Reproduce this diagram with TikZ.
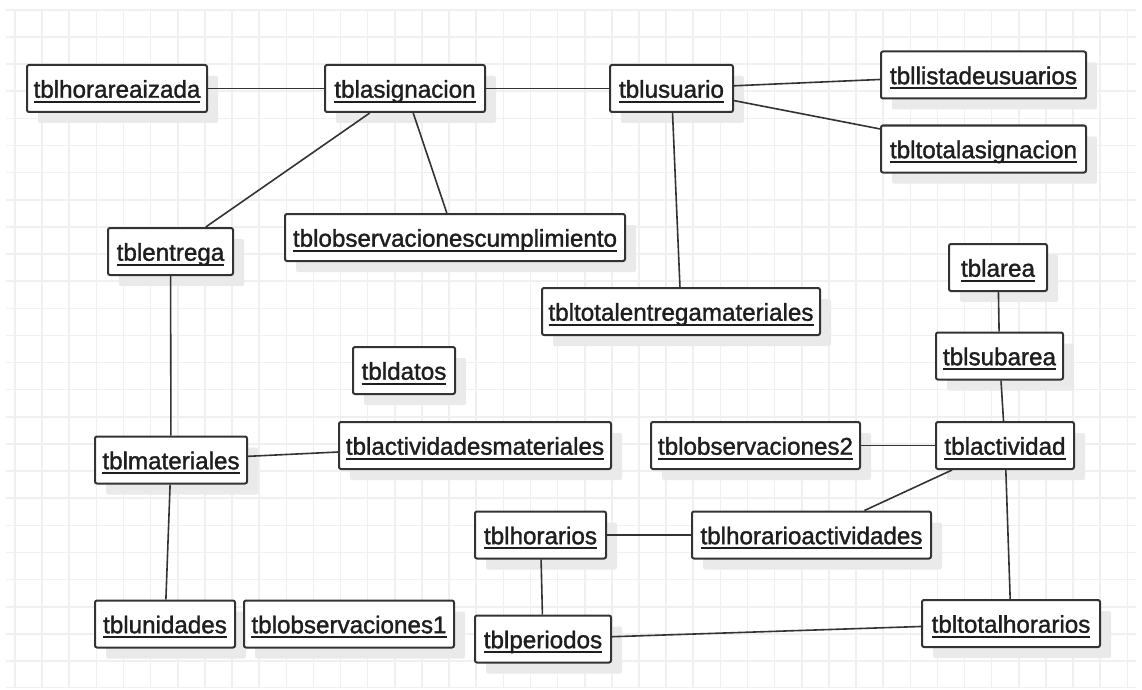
\documentclass[tikz,border=0pt]{standalone}
\usepackage{fontspec}
\newfontfamily\tblfont[FakeBold=1.4]{Liberation Sans}
\usetikzlibrary{shadows}
\definecolor{gridline}{HTML}{F0F0F0}
\definecolor{shade}{HTML}{EAEAEA}
\definecolor{ink}{HTML}{333333}
\definecolor{txt}{HTML}{1E1E1E}
% table name with a thick rule a little under the baseline
\newcommand\tblname[1]{\setbox0\hbox{#1}\rlap{\rule[-5pt]{\wd0}{2pt}}\box0}
\begin{document}
\begin{tikzpicture}[x=1pt,y=-1pt,
  tbl/.style={draw=ink, line width=2pt, rounded corners=2pt, fill=white,
    minimum height=47pt, inner sep=0pt, text height=24pt, text depth=5.6pt,
    font=\tblfont\fontsize{24.2}{29}\selectfont, text=txt,
    general shadow={fill=shade, shadow xshift=11pt, shadow yshift=-11pt}},
  link/.style={draw=ink, line width=1.6pt},
  gridrule/.style={draw=gridline, line width=1.6pt}]
\useasboundingbox (0,0) rectangle (1142,690);
\fill[white] (0,0) rectangle (1142,690);
% background grid
\begin{scope}
  \clip (6,10) rectangle (1136,687);
  \foreach \i in {0,...,41} \draw[gridrule] ({15+27.13*\i},0) -- ({15+27.13*\i},690);
  \foreach \j in {-1,...,24} \draw[gridrule] (0,{37+27.13*\j}) -- (1142,{37+27.13*\j});
\end{scope}

% tables
\node[tbl, minimum width=180pt] (horareaizada) at (117,88.5) {\tblname{tblhorareaizada}};
\node[tbl, minimum width=160pt] (asignacion) at (405,88.5) {\tblname{tblasignacion}};
\node[tbl, minimum width=123pt] (usuario) at (671.5,88.5) {\tblname{tblusuario}};
\node[tbl, minimum width=205pt] (listadeusuarios) at (983.5,75) {\tblname{tbllistadeusuarios}};
\node[tbl, minimum width=205pt] (totalasignacion) at (983.5,149) {\tblname{tbltotalasignacion}};
\node[tbl, minimum width=125pt] (entrega) at (170.5,251.5) {\tblname{tblentrega}};
\node[tbl, minimum width=340pt] (obscumplimiento) at (455,237.5) {\tblname{tblobservacionescumplimiento}};
\node[tbl, minimum width=278pt] (totalentregamateriales) at (681,311.5) {\tblname{tbltotalentregamateriales}};
\node[tbl, minimum width=98pt] (area) at (998,267.5) {\tblname{tblarea}};
\node[tbl, minimum width=127pt] (subarea) at (999.5,356) {\tblname{tblsubarea}};
\node[tbl, minimum width=102pt] (datos) at (404,370.5) {\tblname{tbldatos}};
\node[tbl, minimum width=152pt] (materiales) at (171,460) {\tblname{tblmateriales}};
\node[tbl, minimum width=272pt] (actividadesmateriales) at (475,445.5) {\tblname{tblactividadesmateriales}};
\node[tbl, minimum width=209pt] (observaciones2) at (755.5,445.5) {\tblname{tblobservaciones2}};
\node[tbl, minimum width=138pt] (actividad) at (1005,445.5) {\tblname{tblactividad}};
\node[tbl, minimum width=131pt] (horarios) at (540.5,535) {\tblname{tblhorarios}};
\node[tbl, minimum width=239pt] (horarioactividades) at (811.5,535) {\tblname{tblhorarioactividades}};
\node[tbl, minimum width=140pt] (unidades) at (165,624) {\tblname{tblunidades}};
\node[tbl, minimum width=210pt] (observaciones1) at (349,624) {\tblname{tblobservaciones1}};
\node[tbl, minimum width=136pt] (periodos) at (543,639) {\tblname{tblperiodos}};
\node[tbl, minimum width=178pt] (totalhorarios) at (1011,623.5) {\tblname{tbltotalhorarios}};

% relations
\draw[link] (horareaizada) -- (asignacion);
\draw[link] (asignacion) -- (usuario);
\draw[link] (asignacion) -- (entrega);
\draw[link] (asignacion) -- (obscumplimiento);
\draw[link] (usuario) -- (listadeusuarios);
\draw[link] (usuario) -- (totalasignacion);
\draw[link] (usuario) -- (totalentregamateriales);
\draw[link] (entrega) -- (materiales);
\draw[link] (materiales) -- (actividadesmateriales);
\draw[link] (materiales) -- (unidades);
\draw[link] (area) -- (subarea);
\draw[link] (subarea) -- (actividad);
\draw[link] (observaciones2) -- (actividad);
\draw[link] (actividad) -- (horarioactividades);
\draw[link] (actividad) -- (totalhorarios);
\draw[link] (horarios) -- (horarioactividades);
\draw[link] (horarios) -- (periodos);
\draw[link] (periodos) -- (totalhorarios);
\end{tikzpicture}
\end{document}
